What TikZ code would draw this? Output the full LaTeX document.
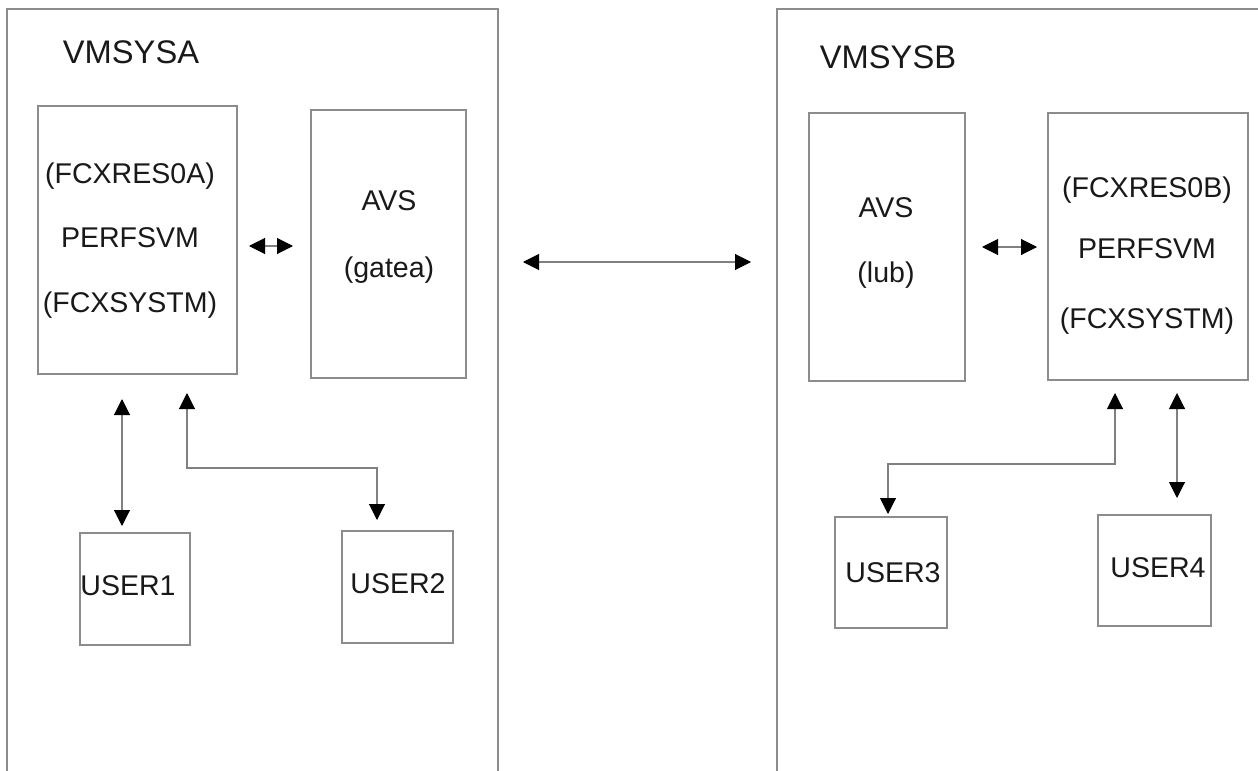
\documentclass[tikz,border=0pt]{standalone}
\usepackage{fontspec}
\setmainfont{Liberation Sans}
\usetikzlibrary{arrows.meta,fit}
\begin{document}
\begin{tikzpicture}[x=0.75pt,y=-0.75pt,
  frame/.style={draw=black!45, line width=0.8pt},
  box/.style={draw=black!45, line width=0.8pt, inner sep=0pt},
  txt/.style={font=\fontsize{21.4pt}{25pt}\selectfont, text=black!90, inner sep=0pt, anchor=base},
  title/.style={font=\fontsize{24.5pt}{28pt}\selectfont, text=black!90, inner sep=0pt, anchor=base},
  conn/.style={draw=black!50, line width=0.8pt,
    {Triangle[length=12pt,width=12pt,color=black]}-{Triangle[length=12pt,width=12pt,color=black]}}]
\useasboundingbox (0,0) rectangle (1258,771);
\fill[white] (0,0) rectangle (1258,771);
% outer system frames (open)
\draw[frame] (7,771) -- (7,9) -- (498,9) -- (498,771);
\draw[frame] (777,771) -- (777,9) -- (1258,9);
\node[title] (ta) at (131,63) {VMSYSA};
\node[title] (tb) at (888,68) {VMSYSB};
% inner boxes
\node[box, fit={(38,106) (237,374)}] (pa) {};
\node[box, fit={(311,110) (466,378)}] (avsa) {};
\node[box, fit={(809,113) (965,381)}] (avsb) {};
\node[box, fit={(1048,113) (1248,380)}] (pb) {};
\node[box, fit={(80,533) (190,645)}] (u1) {};
\node[box, fit={(342,531) (453,643)}] (u2) {};
\node[box, fit={(835,517) (947,628)}] (u3) {};
\node[box, fit={(1098,515) (1211,626)}] (u4) {};
% texts
\node[txt] (pa1) at (130,183) {(FCXRES0A)};
\node[txt] (pa2) at (130,247) {PERFSVM};
\node[txt] (pa3) at (130,312) {(FCXSYSTM)};
\node[txt] (aa1) at (389,210) {AVS};
\node[txt] (aa2) at (389,277) {(gatea)};
\node[txt] (ab1) at (886,217) {AVS};
\node[txt] (ab2) at (886,282) {(lub)};
\node[txt] (pb1) at (1147,197) {(FCXRES0B)};
\node[txt] (pb2) at (1147,258) {PERFSVM};
\node[txt] (pb3) at (1147,328) {(FCXSYSTM)};
\node[txt] (u1t) at (128,595) {USER1};
\node[txt] (u2t) at (398,593) {USER2};
\node[txt] (u3t) at (893,582) {USER3};
\node[txt] (u4t) at (1158,577) {USER4};
% connector end points
\coordinate (h1l) at (249,246); \coordinate (h1r) at (293,246);
\coordinate (hml) at (523,262); \coordinate (hmr) at (751,262);
\coordinate (h2l) at (982,247); \coordinate (h2r) at (1037,247);
\coordinate (a1t) at (122,399); \coordinate (a1b) at (122,526);
\coordinate (a2t) at (187,393); \coordinate (a2k1) at (187,468);
\coordinate (a2k2) at (377,468); \coordinate (a2b) at (377,520);
\coordinate (b1t) at (1115,393); \coordinate (b1k1) at (1115,464);
\coordinate (b1k2) at (888,464); \coordinate (b1b) at (888,514);
\coordinate (b2t) at (1177,393); \coordinate (b2b) at (1177,498);
% connectors
\draw[conn] (h1l) -- (h1r);
\draw[conn] (hml) -- (hmr);
\draw[conn] (h2l) -- (h2r);
\draw[conn] (a1t) -- (a1b);
\draw[conn] (a2t) -- (a2k1) -- (a2k2) -- (a2b);
\draw[conn] (b1t) -- (b1k1) -- (b1k2) -- (b1b);
\draw[conn] (b2t) -- (b2b);
\end{tikzpicture}
\end{document}
